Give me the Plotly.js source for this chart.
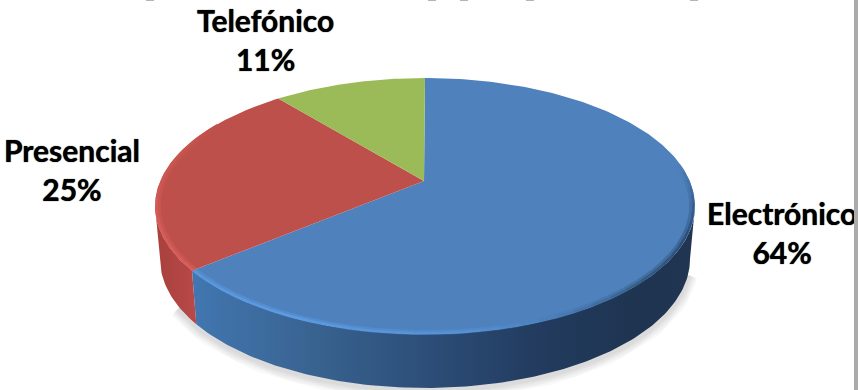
<!DOCTYPE html>
<html>
<head>
<meta charset="utf-8">
<script src="https://cdn.plot.ly/plotly-3.0.1.min.js"></script>
<style>
  html, body { margin: 0; padding: 0; background: #fff; overflow: hidden; }
  #chart { width: 858px; height: 390px; }
  #edge { position: absolute; left: 854px; top: 0; width: 4px; height: 390px; background: #ababab; }
</style>
</head>
<body>
<div id="chart"></div>
<div id="edge"></div>
<script>
// Channel shares, clockwise from twelve o'clock
const categories = ['Electrónico', 'Presencial', 'Telefónico'];
const shares = [64, 25, 11];
const topColors = ['#4F81BD', '#BE504C', '#9BBB59'];

// Label anchors in pixel-scale axis units
const labelX = [782, 72, 265];
const labelY = [232, 169, 39];

// Tilted disc: the top face and the lower rim are ellipses; tilt moves the hub up
const topFace = { cx: 425, cy: 206, rx: 270, ry: 128 };
const lowerRim = { cx: 425, cy: 259, rx: 265, ry: 129 };
const tilt = 0.195;
const rad = Math.PI / 180;

// Perspective position of an angle (degrees clockwise from the top) on a rim
function rimPoint(e, deg) {
  const u = Math.sin(deg * rad), v = Math.cos(deg * rad);
  const d = 1 + tilt * v;
  return [e.cx + e.rx * u * Math.sqrt(1 - tilt * tilt) / d, e.cy - e.ry * (v + tilt) / d];
}
function arc(e, from, to) {
  const n = Math.max(2, Math.ceil(Math.abs(to - from)));
  const pts = [];
  for (let i = 0; i <= n; i++) pts.push(rimPoint(e, from + (to - from) * i / n));
  return pts;
}
const xs = pts => pts.map(p => p[0]);
const ys = pts => pts.map(p => p[1]);
function hex2(c) { return [1, 3, 5].map(i => parseInt(c.substr(i, 2), 16)); }
function mix(a, b, f) {
  const A = hex2(a), B = hex2(b);
  return 'rgb(' + A.map((v, i) => Math.round(v + (B[i] - v) * f)).join(',') + ')';
}

// Slice boundaries derived from the shares
const total = shares.reduce((a, b) => a + b, 0);
const bounds = [0];
shares.forEach(s => bounds.push(bounds[bounds.length - 1] + s / total * 360));

// Where the side wall meets the silhouette of the disc
const wallRight = Math.acos(-tilt) / rad;
const wallLeft = 360 - wallRight;

const traces = [];
const line = (pts, color, width, opacity) => traces.push({
  type: 'scatter', mode: 'lines', x: xs(pts), y: ys(pts), opacity: opacity === undefined ? 1 : opacity,
  line: { color: color, width: width, shape: 'linear' }, hoverinfo: 'skip'
});

// Soft ground shadow under the lower rim
[20, 17, 14, 11, 8, 5].forEach(w => {
  const pts = arc(lowerRim, wallRight + 6, bounds[1] + 8).map(p => [p[0], p[1] + 2]);
  line(pts, 'rgba(0,0,0,0.022)', w);
});

// Side wall pieces
function wall(from, to, stops, start, stop) {
  const a = arc(topFace, from, to), b = arc(lowerRim, to, from);
  const pts = a.concat(b);
  traces.push({
    type: 'scatter', mode: 'lines', x: xs(pts), y: ys(pts), fill: 'toself',
    line: { width: 0 }, hoverinfo: 'skip',
    fillgradient: { type: 'horizontal', colorscale: stops, start: start, stop: stop }
  });
}
wall(wallRight, bounds[1], [
  [0, '#1F3552'], [0.1, '#1E3450'], [0.3, '#223B5E'], [0.5, '#2B4B75'],
  [0.75, '#38628F'], [1, '#4176B0']
], 690, 195);
wall(bounds[1], wallLeft, [[0, '#B8494A'], [1, '#A8403B']], 197, 155);

// Top face slices
const hub = [424, 181];
shares.forEach((s, i) => {
  const pts = [hub].concat(arc(topFace, bounds[i], bounds[i + 1]), [hub]);
  traces.push({
    type: 'scatter', mode: 'lines', x: xs(pts), y: ys(pts), fill: 'toself',
    fillcolor: topColors[i], line: { width: 0 }, hoverinfo: 'skip', name: categories[i]
  });
});

// Bevel along the top edge of the disc, one short run per stop pair
function bevel(stops, width, opacity, inset) {
  for (let i = 0; i < stops.length - 1; i++) {
    const [a, ca] = stops[i], [b, cb] = stops[i + 1];
    const steps = Math.max(1, Math.round(Math.abs(b - a) / 4));
    for (let k = 0; k < steps; k++) {
      const s = a + (b - a) * k / steps, e = a + (b - a) * (k + 1) / steps;
      const pts = arc(topFace, s, e).map(p => [
        topFace.cx + (p[0] - topFace.cx) * inset,
        topFace.cy + (p[1] - topFace.cy) * inset
      ]);
      line(pts, mix(ca, cb, (k + 0.5) / steps), width, opacity);
    }
  }
}
const blueRim = [
  [82, '#4F81BD'], [100, '#375E8E'], [115, '#2B4B75'], [135, '#33597F'],
  [152, '#4676AE'], [170, '#5490D4'], [205, '#5E9CE4'], [bounds[1], '#5A96DC']
];
const redRim = [
  [bounds[1], '#DA5F5A'], [255, '#D65C57'], [285, '#C9564F'], [300, '#BE504C']
];
[blueRim, redRim].forEach(stops => {
  bevel(stops, 5, 0.45, 0.988);
  bevel(stops, 2.5, 0.9, 0.994);
});

const annotations = categories.map((c, i) => ({
  x: labelX[i], y: labelY[i], xref: 'x', yref: 'y', showarrow: false,
  text: c + '<br>' + shares[i] + '%', align: 'center',
  font: { family: 'Lato, Carlito, sans-serif', size: 30, color: '#000', weight: 700, shadow: '0 0 1px #000' }
}));

// Tips of a heading cropped away above the chart
const cropped = [150, 432, 464, 530, 694].map(x => ({
  type: 'rect', xref: 'x', yref: 'y', x0: x - 4, x1: x + 4, y0: 0, y1: 1,
  fillcolor: '#b5b5b5', line: { width: 0 }
}));

Plotly.newPlot('chart', traces, {
  width: 858, height: 390, margin: { l: 0, r: 0, t: 0, b: 0 },
  paper_bgcolor: '#fff', plot_bgcolor: '#fff', showlegend: false, hovermode: false,
  xaxis: { range: [0, 858], visible: false, fixedrange: true },
  yaxis: { range: [390, 0], visible: false, fixedrange: true },
  annotations: annotations, shapes: cropped
}, { displayModeBar: false, staticPlot: true });
</script>
</body>
</html>
